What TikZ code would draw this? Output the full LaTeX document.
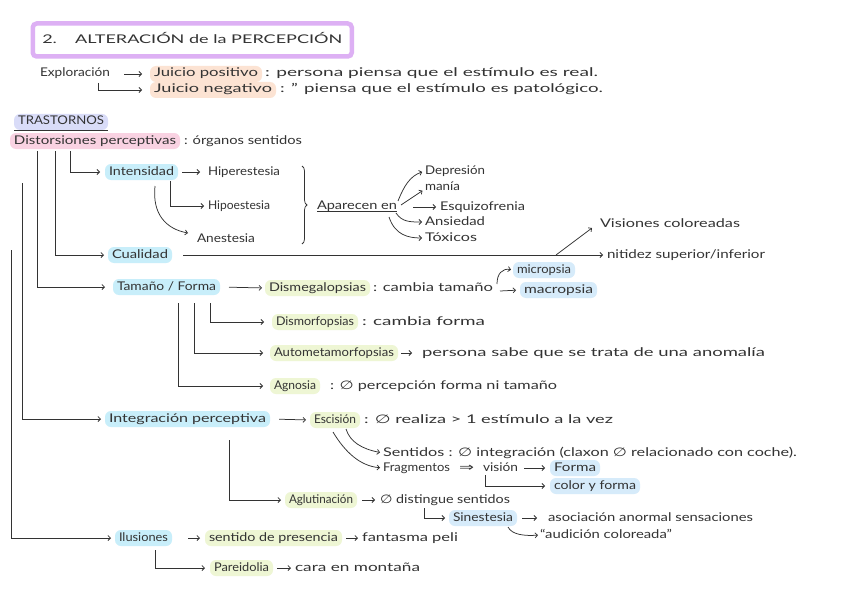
\documentclass[tikz,border=0pt]{standalone}
\usepackage{fontspec}
\setmainfont{Lato}
\newfontfamily\sym{DejaVu Sans}
\usetikzlibrary{arrows.meta,decorations.pathreplacing,calc}
\definecolor{ink}{HTML}{333333}
\definecolor{purp}{HTML}{DDB0F4}
\definecolor{peach}{HTML}{FCE3D3}
\definecolor{lav}{HTML}{D9DCF8}
\definecolor{pinkh}{HTML}{F9D2E2}
\definecolor{cyanh}{HTML}{C8EEFA}
\definecolor{greenh}{HTML}{EEF6D4}
\definecolor{blueh}{HTML}{D6EBFA}
\newcommand{\hw}[2]{\resizebox{#1pt}{\height}{#2}}
\newcommand{\nul}{{\sym ∅}}
\begin{document}
\begin{tikzpicture}[x=1pt,y=-1pt, font=\fontsize{12}{14}\selectfont,
 txt/.style={inner xsep=0pt, inner ysep=2pt, text height=9pt, text depth=3pt, anchor=west, outer sep=0pt, text=ink},
 hl/.style={txt, inner xsep=4pt, fill=#1, rounded corners=6pt},
 con/.style={draw=ink, line width=0.75pt, shorten >=4pt, -{Straight Barb[length=2.5pt,width=5pt]}},
 ln/.style={draw=ink, line width=0.75pt},
]
\useasboundingbox (0,0) rectangle (848,599);
\fill[white] (0,0) rectangle (848,599);

% title
\node[draw=purp, line width=4.5pt, rounded corners=4pt, anchor=west, inner xsep=9.5pt, inner ysep=0pt,
      minimum height=33pt, text height=10pt, text depth=3pt, text=ink] (title) at (30.5,40)
      {\hw{300}{2.\quad ALTERACIÓN de la PERCEPCIÓN}};

% exploracion
\node[txt] (expl) at (40,74) {\hw{70}{Exploración}};
\node[hl=peach] (jpos) at (150,74) {\hw{104}{Juicio positivo}};
\node[txt] (jpost) at (265,74) {\hw{333}{: persona piensa que el estímulo es real.}};
\node[hl=peach] (jneg) at (150,90) {\hw{118}{Juicio negativo}};
\node[txt] (jnegt) at (280,90) {\hw{323}{: '' piensa que el estímulo es patológico.}};

% trastornos
\node[hl=lav] (tras) at (14,122) {\hw{86}{TRASTORNOS}};
\node[hl=pinkh] (dist) at (10,141) {\hw{162}{Distorsiones perceptivas}};
\node[txt] (distt) at (184,141) {\hw{118}{: órganos sentidos}};

% intensidad
\node[hl=cyanh] (intens) at (105,172) {\hw{65}{Intensidad}};
\node[txt] (hiper) at (208,172) {\hw{72}{Hiperestesia}};
\node[txt] (hipo) at (208,206) {\hw{62}{Hipoestesia}};
\node[txt] (anest) at (197,239) {\hw{58}{Anestesia}};
\node[txt] (apar) at (317,206) {\hw{80}{Aparecen en}};
\node[txt] (dep) at (425,171) {\hw{60}{Depresión}};
\node[txt] (mania) at (425,187) {\hw{35}{manía}};
\node[txt] (esq) at (440,207) {\hw{85}{Esquizofrenia}};
\node[txt] (ans) at (425,222) {\hw{60}{Ansiedad}};
\node[txt] (tox) at (425,238) {\hw{52}{Tóxicos}};

% cualidad
\node[hl=cyanh] (qual) at (108,255) {\hw{56}{Cualidad}};
\node[txt] (nit) at (607,255) {\hw{158}{nitidez superior/inferior}};
\node[txt] (vis) at (600,224) {\hw{140}{Visiones coloreadas}};

% tamano
\node[hl=cyanh] (tam) at (113,287) {\hw{99}{Tamaño / Forma}};
\node[hl=greenh] (dismeg) at (265,288) {\hw{97}{Dismegalopsias}};
\node[txt] (dismegt) at (373,288) {\hw{120}{: cambia tamaño}};
\node[hl=blueh] (micro) at (513,270) {\hw{54}{micropsia}};
\node[hl=blueh] (macro) at (520,290) {\hw{69}{macropsia}};
\node[hl=greenh] (dismorf) at (272,322) {\hw{78}{Dismorfopsias}};
\node[txt] (dismorft) at (362,322) {\hw{123}{: cambia forma}};
\node[hl=greenh] (auto) at (270,353) {\hw{120}{Autometamorfopsias}};
\node[txt] (autot) at (422,353) {\hw{343}{persona sabe que se trata de una anomalía}};
\node[hl=greenh] (agn) at (270,386) {\hw{42}{Agnosia}};
\node[txt] (agnt) at (330,386) {\hw{227}{: \nul\ percepción forma ni tamaño}};

% integracion
\node[hl=cyanh] (integ) at (105,419) {\hw{157}{Integración perceptiva}};
\node[hl=greenh] (esc) at (310,420) {\hw{42}{Escisión}};
\node[txt] (esct) at (364,420) {\hw{249}{: \nul\ realiza > 1 estímulo a la vez}};
\node[txt] (sent) at (383,453) {\hw{414}{Sentidos : \nul\ integración (claxon \nul\ relacionado con coche).}};
\node[txt] (frag) at (383,468) {\hw{67}{Fragmentos}};
\node[txt] (dbl) at (459,468) {\hw{15}{\sym ⇒}};
\node[txt] (visn) at (483,468) {\hw{35}{visión}};
\node[hl=blueh] (forma) at (550,468) {\hw{42}{Forma}};
\node[hl=blueh] (color) at (550,486) {\hw{82}{color y forma}};
\node[hl=greenh] (agl) at (285,500) {\hw{64}{Aglutinación}};
\node[txt] (aglt) at (380,500) {\hw{130}{\nul\ distingue sentidos}};
\node[hl=blueh] (sin) at (449,518) {\hw{60}{Sinestesia}};
\node[txt] (sint) at (548,518) {\hw{205}{asociación anormal sensaciones}};
\node[txt] (aud) at (540,535) {\hw{132}{``audición coloreada''}};

% ilusiones
\node[hl=cyanh] (ilus) at (115,538) {\hw{49}{Ilusiones}};
\node[hl=greenh] (pres) at (205,538) {\hw{129}{sentido de presencia}};
\node[txt] (fant) at (362,538) {\hw{96}{fantasma peli}};
\node[hl=greenh] (pare) at (210,568) {\hw{55}{Pareidolia}};
\node[txt] (paret) at (295,568) {\hw{125}{cara en montaña}};

% ---- connectors ----
\draw[con, shorten <=14pt, shorten >=8pt] (expl.east) -- (jpos.west);
\coordinate (e1) at ($(expl.south east)+(-12,1)$);
\draw[con, shorten >=8pt] (e1) |- (jneg.west);

\draw[ln] (tras.south west) -- (tras.south east);

\coordinate (v1) at (70,151);
\coordinate (v2) at (55,151);
\coordinate (v3) at (37,151);
\coordinate (v4) at (22,183);
\coordinate (v5) at (11,250);
\draw[con, shorten >=5pt] (v1) |- (intens.west);
\draw[con, shorten >=4pt] (v2) |- (qual.west);
\draw[con, shorten >=8pt] (v3) |- (tam.west);
\draw[con] (v4) |- (integ.west);
\draw[con] (v5) |- (ilus.west);

\draw[con, shorten <=4pt, shorten >=8pt] (intens.east) -- (hiper.west);
\coordinate (i1) at (170,181);
\draw[con] (i1) |- (hipo.west);
\coordinate (i2) at (155,186);
\draw[con, shorten >=0pt] (i2) .. controls (152,214) and (166,229) .. ([xshift=-9pt,yshift=6pt]anest.west);

\draw[ln, decorate, decoration={brace, amplitude=5pt}] (302,166) -- (302,244);
\draw[ln] ($(apar.base west)+(0,2.5)$) -- ($(apar.base east)+(0,2.5)$);

\coordinate (a1) at (398,201);
\coordinate (a2) at (401,205);
\coordinate (a3) at (413,207);
\coordinate (a4) at (396,213);
\coordinate (a5) at (389,217);
\draw[con, shorten >=3pt] (a1) .. controls (404,186) and (410,176) .. (dep.west);
\draw[con, shorten >=3pt] (a2) -- ([yshift=-2pt]mania.west);
\draw[con] (a3) -- (esq.west);
\draw[con, shorten >=3pt] (a4) .. controls (402,222) and (410,222) .. (ans.west);
\draw[con, shorten >=3pt] (a5) .. controls (395,235) and (408,238) .. (tox.west);

\draw[con, shorten <=11pt] (qual.east) -- (nit.west);
\coordinate (br) at (556,255);
\draw[con, shorten >=0pt] (br) -- ([xshift=-8pt,yshift=-4pt]vis.west);

\draw[con, shorten <=9pt, shorten >=3pt] (tam.east) -- (dismeg.west);
\coordinate (m1) at (497,284);
\draw[con, shorten >=2pt] (m1) .. controls (497,274) and (502,268) .. (micro.west);
\coordinate (m2) at (500,291);
\draw[con] (m2) -- (macro.west);

\coordinate (t1) at (210,303);
\coordinate (t2) at (194,303);
\coordinate (t3) at (178,303);
\draw[con, shorten >=8pt] (t1) |- (dismorf.west);
\draw[con, shorten >=7pt] (t2) |- (auto.west);
\draw[con, shorten >=7pt] (t3) |- (agn.west);
\draw[con, shorten <=3pt, shorten >=10pt] (auto.east) -- (autot.west);

\draw[con, shorten <=9pt] (integ.east) -- (esc.west);
\coordinate (s1) at (346,429);
\coordinate (s2) at (333,432);
\draw[con, shorten >=3pt] (s1) .. controls (350,442) and (362,449) .. (sent.west);
\draw[con, shorten >=3pt] (s2) .. controls (345,452) and (360,466) .. (frag.west);
\draw[con, shorten <=6pt, shorten >=5pt] (visn.east) -- (forma.west);
\coordinate (f1) at (485,475);
\draw[con, shorten >=5pt] (f1) |- (color.west);

\coordinate (g1) at (229,440);
\draw[con] (g1) |- (agl.west);
\draw[con, shorten <=5pt, shorten >=5pt] (agl.east) -- (aglt.west);
\coordinate (g2) at (424,508);
\draw[con] (g2) |- (sin.west);
\draw[con, shorten <=5pt, shorten >=11pt] (sin.east) -- (sint.west);
\coordinate (s3) at (508,527);
\draw[con, shorten >=2pt] (s3) .. controls (512,535) and (525,536) .. (aud.west);

\draw[con, shorten <=16pt, shorten >=5pt] (ilus.east) -- (pres.west);
\draw[con, shorten <=4pt, shorten >=4pt] (pres.east) -- (fant.west);
\coordinate (p1) at (155,550);
\draw[con, shorten >=5pt] (p1) |- (pare.west);
\draw[con, shorten <=4pt, shorten >=4pt] (pare.east) -- (paret.west);
\end{tikzpicture}
\end{document}
